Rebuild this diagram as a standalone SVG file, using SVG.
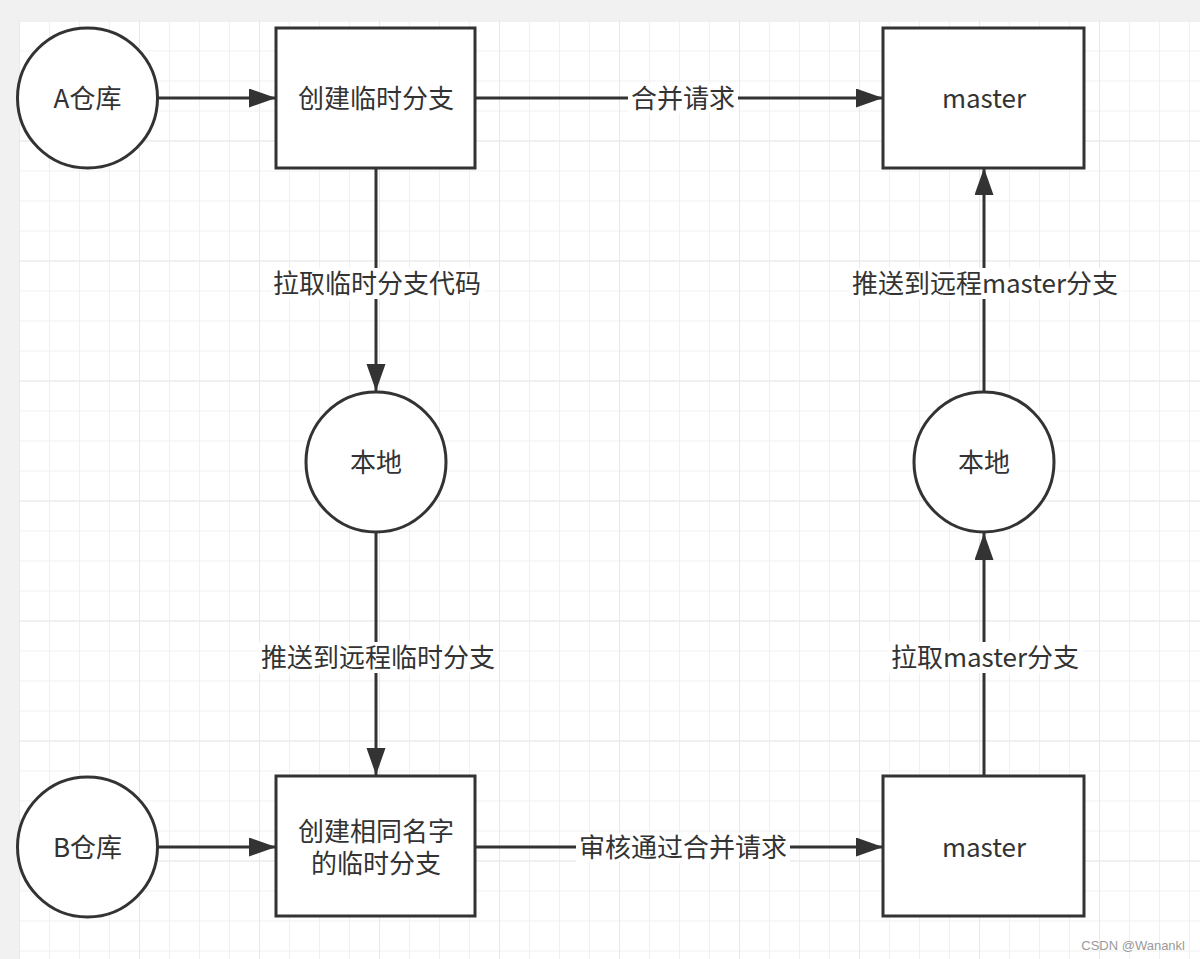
<svg xmlns="http://www.w3.org/2000/svg" width="1200" height="959" viewBox="0 0 1200 959">
<style>
.node{fill:#fff;stroke:#333;stroke-width:3}
.t{font-family:"Noto Sans CJK SC","Noto Sans",sans-serif;font-size:26px;fill:#333;text-anchor:middle;dominant-baseline:central}
.edge{stroke:#333;stroke-width:3;fill:none}
.lbg{fill:#fff}
</style>
<defs>
<pattern id="gmin" patternUnits="userSpaceOnUse" x="19" y="20.5" width="30" height="30">
<path d="M0 0H30M0 0V30" stroke="#f0f0f0" stroke-width="2" fill="none"/>
</pattern>
<pattern id="gmaj" patternUnits="userSpaceOnUse" x="19" y="20.5" width="120" height="120">
<path d="M0 0H120M0 0V120" stroke="#e8e8e8" stroke-width="2" fill="none"/>
</pattern>
<marker id="arr" markerUnits="userSpaceOnUse" markerWidth="28" markerHeight="20" refX="27" refY="9.5" orient="auto">
<path d="M0 0L27 9.5L0 19Z" fill="#333"/>
</marker>
</defs>
<rect width="1200" height="959" fill="#f1f1f1"/>
<rect x="19" y="20" width="1181" height="939" fill="#fff"/>
<rect x="19" y="20" width="1181" height="939" fill="url(#gmin)"/>
<rect x="19" y="20" width="1181" height="939" fill="url(#gmaj)"/>

<g id="connectors">
<line class="edge" x1="158" y1="98" x2="276" y2="98" marker-end="url(#arr)"/>
<line class="edge" x1="476" y1="98" x2="883" y2="98" marker-end="url(#arr)"/>
<line class="edge" x1="376" y1="168" x2="376" y2="391" marker-end="url(#arr)"/>
<line class="edge" x1="376" y1="532" x2="376" y2="775" marker-end="url(#arr)"/>
<line class="edge" x1="158" y1="847" x2="276" y2="847" marker-end="url(#arr)"/>
<line class="edge" x1="476" y1="847" x2="883" y2="847" marker-end="url(#arr)"/>
<line class="edge" x1="984" y1="775" x2="984" y2="533" marker-end="url(#arr)"/>
<line class="edge" x1="984" y1="392" x2="984" y2="168" marker-end="url(#arr)"/>
<g id="edge-labels">
<rect class="lbg" x="628" y="84" width="110" height="29"/>
<text class="t" x="683" y="96">合并请求</text>
<rect class="lbg" x="271" y="268" width="213" height="31"/>
<text class="t" x="377" y="281">拉取临时分支代码</text>
<rect class="lbg" x="849" y="268" width="272" height="31"/>
<text class="t" x="985" y="281">推送到远程master分支</text>
<rect class="lbg" x="259" y="642" width="239" height="31"/>
<text class="t" x="378" y="655">推送到远程临时分支</text>
<rect class="lbg" x="888" y="642" width="195" height="31"/>
<text class="t" x="985" y="655">拉取master分支</text>
<rect class="lbg" x="576" y="833" width="214" height="29"/>
<text class="t" x="683" y="845">审核通过合并请求</text>
</g>
</g>

<g id="node-a-repo">
<circle class="node" cx="87.5" cy="98" r="70"/>
<text class="t" x="87.5" y="96">A仓库</text>
</g>
<g id="node-create-temp">
<rect class="node" x="276" y="28" width="199" height="140"/>
<text class="t" x="376" y="96">创建临时分支</text>
</g>
<g id="node-master-top">
<rect class="node" x="883" y="28" width="201" height="140"/>
<text class="t" x="984" y="96">master</text>
</g>
<g id="node-local-left">
<circle class="node" cx="376" cy="462" r="70"/>
<text class="t" x="376" y="460">本地</text>
</g>
<g id="node-local-right">
<circle class="node" cx="984" cy="462" r="70"/>
<text class="t" x="984" y="460">本地</text>
</g>
<g id="node-b-repo">
<circle class="node" cx="87.5" cy="847" r="70"/>
<text class="t" x="87.5" y="845">B仓库</text>
</g>
<g id="node-create-same">
<rect class="node" x="276" y="776" width="199" height="140"/>
<text class="t" x="376" y="829"><tspan x="376" y="829">创建相同名字</tspan><tspan x="376" y="861">的临时分支</tspan></text>
</g>
<g id="node-master-bottom">
<rect class="node" x="883" y="776" width="201" height="140"/>
<text class="t" x="984" y="845">master</text>
</g>
<text x="1185" y="950" font-family="'Liberation Sans',sans-serif" font-size="13" fill="#9a9a9a" text-anchor="end">CSDN @Wanankl</text>
</svg>
